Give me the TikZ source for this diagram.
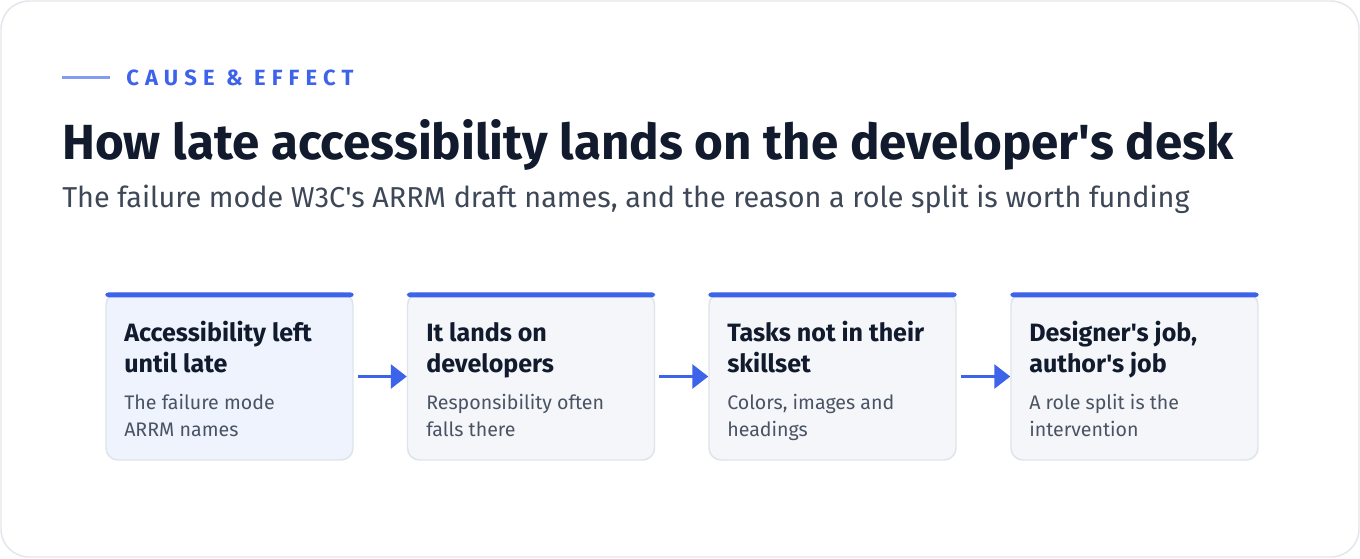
\documentclass[tikz,border=0pt]{standalone}
\usepackage{fontspec}
\setmainfont{Fira Sans}[Ligatures=TeXOff]
\usetikzlibrary{arrows.meta}

\definecolor{accent}{HTML}{3D63EA}
\definecolor{accentlight}{HTML}{829CF2}
\definecolor{ink}{HTML}{111B2D}
\definecolor{subink}{HTML}{3E4757}
\definecolor{descink}{HTML}{4A5363}
\definecolor{frame}{HTML}{E3E6EB}
\definecolor{cardline}{HTML}{DFE3EA}
\definecolor{cardfill}{HTML}{F4F6FA}
\definecolor{cardhot}{HTML}{EEF3FD}

\tikzset{
  card/.style={draw=cardline, line width=1.1pt, fill=cardfill, rounded corners=9pt,
    minimum width=185.25pt, minimum height=125.25pt, inner sep=0pt},
  cardbar/.style={accent, rounded corners=2.5pt},
  cardtitle/.style={anchor=base west, inner sep=0pt, text=ink, align=left,
    font=\fontsize{18.8}{23.25}\selectfont\bfseries},
  carddesc/.style={anchor=base west, inner sep=0pt, text=descink, align=left,
    font=\fontsize{14.7}{20.25}\selectfont},
  flow/.style={accent, line width=2.25pt, -{Triangle[length=12pt,width=18pt]},
    shorten <=3pt}
}

\begin{document}
\begin{tikzpicture}[x=0.75pt, y=-0.75pt]
  \useasboundingbox (0,0) rectangle (1360,558);
  \draw[frame, line width=1.1pt, fill=white, rounded corners=21pt] (1,1) rectangle (1359,557);

  % header
  \coordinate (rulestart) at (62,77);
  \coordinate (ruleend) at (110,77);
  \draw[accentlight, line width=2.25pt] (rulestart) -- (ruleend);
  \node[anchor=base west, inner sep=0pt, text=accent,
    font=\fontsize{16.5}{20}\selectfont\bfseries\addfontfeature{LetterSpace=28}]
    (kicker) at (126,85) {CAUSE \& EFFECT};
  \node[anchor=base west, inner sep=0pt, text=ink, font=\fontsize{37}{42}\selectfont\bfseries]
    (headline) at (62,159) {How late accessibility lands on the developer's desk};
  \node[anchor=base west, inner sep=0pt, text=subink, font=\fontsize{21.6}{26}\selectfont]
    (subline) at (62,207) {The failure mode W3C's ARRM draft names, and the reason a role split is worth funding};

  % cards
  \node[card, fill=cardhot] (late) at (229.5,376.5) {};
  \node[card] (lands) at (531,376.5) {};
  \node[card] (skills) at (832.5,376.5) {};
  \node[card] (roles) at (1134.5,376.5) {};
  \fill[cardbar] (late.north west) rectangle ([yshift=-3.75pt]late.north east);
  \fill[cardbar] (lands.north west) rectangle ([yshift=-3.75pt]lands.north east);
  \fill[cardbar] (skills.north west) rectangle ([yshift=-3.75pt]skills.north east);
  \fill[cardbar] (roles.north west) rectangle ([yshift=-3.75pt]roles.north east);

  \node[cardtitle] (latet) at (124,372) {Accessibility left\\until late};
  \node[carddesc] (lated) at (124,436) {The failure mode\\ARRM names};
  \node[cardtitle] (landst) at (426,372) {It lands on\\developers};
  \node[carddesc] (landsd) at (426,436) {Responsibility often\\falls there};
  \node[cardtitle] (skillst) at (727,372) {Tasks not in their\\skillset};
  \node[carddesc] (skillsd) at (727,436) {Colors, images and\\headings};
  \node[cardtitle] (rolest) at (1029,372) {Designer's job,\\author's job};
  \node[carddesc] (rolesd) at (1029,436) {A role split is the\\intervention};

  % arrows
  \draw[flow] (late.east) -- (lands.west);
  \draw[flow] (lands.east) -- (skills.west);
  \draw[flow] (skills.east) -- (roles.west);
\end{tikzpicture}
\end{document}
